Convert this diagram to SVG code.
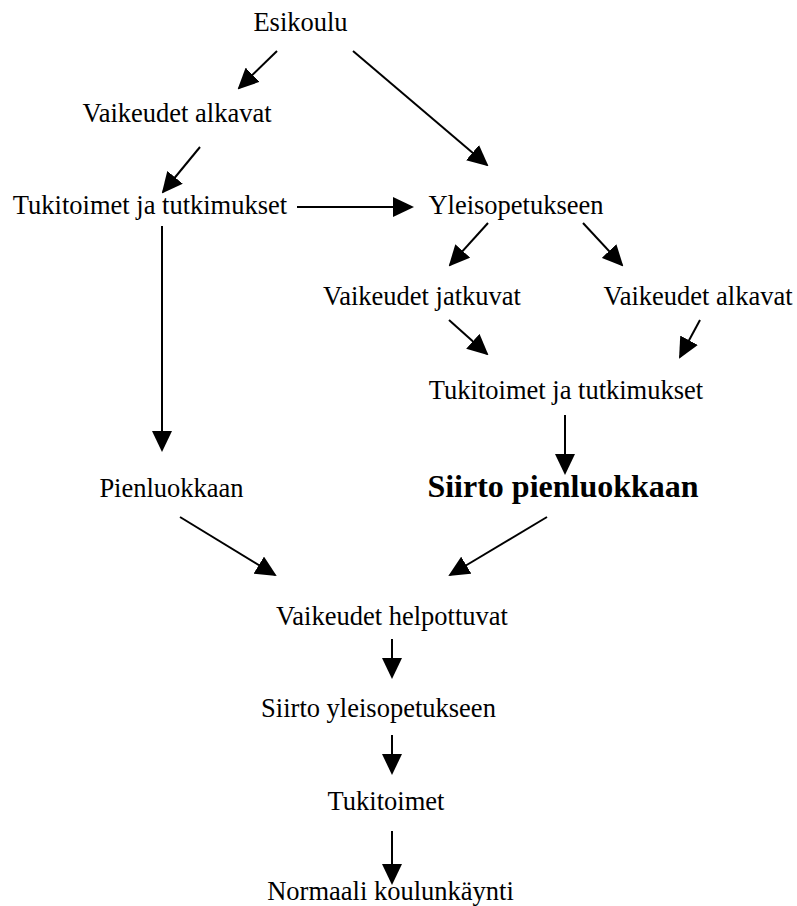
<svg xmlns="http://www.w3.org/2000/svg" width="797" height="906" viewBox="0 0 797 906">
<style>
text{font-family:"Liberation Serif","Times New Roman",serif;font-size:26.5px;fill:#000;text-anchor:middle}
.b{font-weight:bold;font-size:32px}
.c line{stroke:#000;stroke-width:2;marker-end:url(#ah)}
</style>
<defs>
<marker id="ah" markerUnits="userSpaceOnUse" markerWidth="21" markerHeight="20" refX="19" refY="10" orient="auto" viewBox="0 0 21 20">
<path d="M0,0 L21,10 L0,20 z" fill="#000"/>
</marker>
</defs>
<rect width="797" height="906" fill="#fff"/>
<g id="n-esikoulu"><text x="300.5" y="31">Esikoulu</text></g>
<g id="n-vaikeudet-alkavat-1"><text x="177" y="122">Vaikeudet alkavat</text></g>
<g id="n-tukitoimet-1"><text x="150" y="214">Tukitoimet ja tutkimukset</text></g>
<g id="n-yleisopetukseen"><text x="516" y="214">Yleisopetukseen</text></g>
<g id="n-vaikeudet-jatkuvat"><text x="422" y="305">Vaikeudet jatkuvat</text></g>
<g id="n-vaikeudet-alkavat-2"><text x="698" y="305">Vaikeudet alkavat</text></g>
<g id="n-tukitoimet-2"><text x="566" y="399">Tukitoimet ja tutkimukset</text></g>
<g id="n-pienluokkaan"><text x="171.5" y="497">Pienluokkaan</text></g>
<g id="n-siirto-pienluokkaan"><text class="b" x="563" y="497">Siirto pienluokkaan</text></g>
<g id="n-vaikeudet-helpottuvat"><text x="392" y="625">Vaikeudet helpottuvat</text></g>
<g id="n-siirto-yleisopetukseen"><text x="378.5" y="717">Siirto yleisopetukseen</text></g>
<g id="n-tukitoimet-3"><text x="386" y="810">Tukitoimet</text></g>
<g id="n-normaali"><text x="390.5" y="900">Normaali koulunkäynti</text></g>
<g id="connectors" class="c">
<line x1="277" y1="51" x2="239" y2="88"/>
<line x1="353" y1="51" x2="487" y2="165"/>
<line x1="200" y1="147" x2="163" y2="192"/>
<line x1="297" y1="207" x2="412" y2="207"/>
<line x1="162" y1="226" x2="162" y2="450"/>
<line x1="488" y1="223" x2="450" y2="265"/>
<line x1="583" y1="223" x2="622" y2="265"/>
<line x1="449" y1="320" x2="487" y2="354"/>
<line x1="700" y1="320" x2="680" y2="357"/>
<line x1="565" y1="415" x2="565" y2="473"/>
<line x1="180" y1="517" x2="275" y2="575"/>
<line x1="547" y1="517" x2="450" y2="575"/>
<line x1="392" y1="639" x2="392" y2="677"/>
<line x1="392" y1="735" x2="392" y2="773"/>
<line x1="392" y1="831" x2="392" y2="883"/>
</g>
</svg>
